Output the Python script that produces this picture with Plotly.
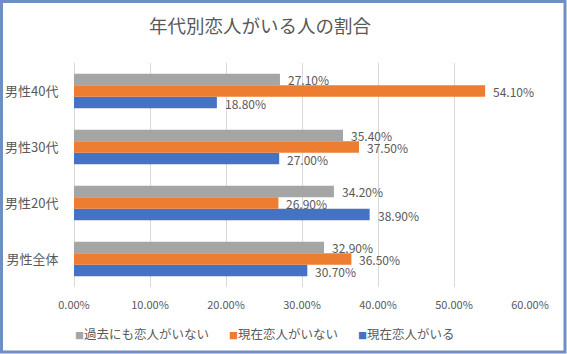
import plotly.graph_objects as go

categories = ["男性全体", "男性20代", "男性30代", "男性40代"]
series_names = ["過去にも恋人がいない", "現在恋人がいない", "現在恋人がいる"]
never = [0.329, 0.342, 0.354, 0.271]
no_now = [0.365, 0.269, 0.375, 0.541]
yes_now = [0.307, 0.389, 0.270, 0.188]
series_values = [never, no_now, yes_now]
colors = ["#A5A5A5", "#ED7D31", "#4472C4"]
x_ticks = [0, 0.1, 0.2, 0.3, 0.4, 0.5, 0.6]

FONT = "Noto Sans CJK JP"
GRAY = "#595959"

# plot area pixel geometry
L, R, T, B = 74, 530, 63, 287
W, H = 567, 354
pw, ph = R - L, B - T
BARGAP = 0.38

def px_x(px):
    return (px - L) / pw

def px_y(py):
    return (B - py) / ph

fig = go.Figure()
# add in reverse so the first series is on top in each group
for name, vals, col in reversed(list(zip(series_names, series_values, colors))):
    fig.add_trace(go.Bar(
        y=categories, x=vals, name=name, orientation="h",
        marker=dict(color=col, line=dict(width=0)),
        showlegend=False,
    ))

# data labels
band = ph / len(categories)
bar_h = band * (1 - BARGAP) / len(series_names)
for i, vals in enumerate(series_values):
    shift = (1 - i) * bar_h
    for cat, v in zip(categories, vals):
        fig.add_annotation(
            x=v, y=cat, xref="x", yref="y", xanchor="left", yanchor="middle",
            xshift=6, yshift=shift - 0.5, showarrow=False,
            text=f"{v * 100:.2f}%",
            font=dict(family=FONT, size=12, color=GRAY),
        )

# legend drawn as text
legend_x = [73, 227, 356]
for name, col, lx in zip(series_names, colors, legend_x):
    fig.add_annotation(
        xref="paper", yref="paper", x=px_x(lx), y=px_y(333),
        xanchor="left", yanchor="middle", showarrow=False,
        text=f"<span style='color:{col};font-size:9px'>■</span>{name}",
        font=dict(family=FONT, size=12.5, color=GRAY),
    )

fig.add_shape(type="rect", xref="paper", yref="paper",
              x0=px_x(1.5), x1=px_x(565), y0=px_y(352), y1=px_y(1.5),
              line=dict(color="#6F8FC4", width=3), layer="above")

fig.update_layout(
    width=W, height=H,
    margin=dict(l=L, r=W - R, t=T, b=H - B),
    paper_bgcolor="white", plot_bgcolor="white",
    barmode="group", bargap=BARGAP, bargroupgap=0,
    title=dict(text="年代別恋人がいる人の割合", xref="container", yref="container",
               x=260 / W, y=1 - 27 / H, xanchor="center", yanchor="middle",
               font=dict(family=FONT, size=18.5, color=GRAY)),
    xaxis=dict(range=[0, 0.6], tickvals=x_ticks, tickformat=".2%", automargin=False,
               showgrid=True, gridcolor="#D9D9D9", gridwidth=1,
               zeroline=True, zerolinecolor="#D9D9D9", zerolinewidth=1,
               showline=False, ticks="outside", ticklen=8, tickcolor="rgba(0,0,0,0)",
               tickfont=dict(family=FONT, size=11, color=GRAY)),
    yaxis=dict(categoryorder="array", categoryarray=categories, automargin=False,
               showgrid=False, showline=False, ticks="outside", ticklen=12,
               tickcolor="rgba(0,0,0,0)",
               tickfont=dict(family=FONT, size=13, color=GRAY)),
    showlegend=False,
)

fig.write_html("out.html")
